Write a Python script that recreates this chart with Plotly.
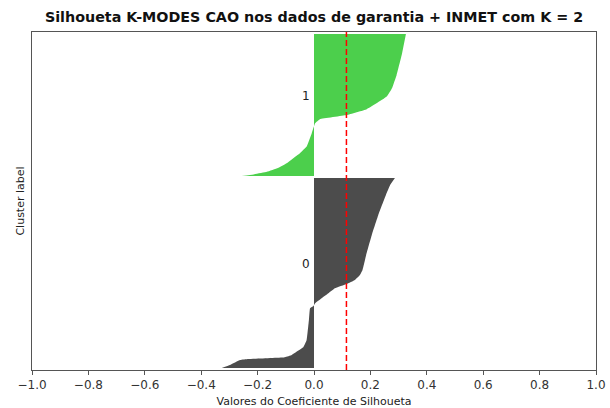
import plotly.graph_objects as go

# Silhouette profiles: rank within cluster (sorted ascending) and value
c0_rank = [0, 15, 40, 45, 54, 65, 82, 104, 140, 240, 299, 310, 324, 349, 374, 399, 420, 440, 465, 490, 565, 665, 765, 865, 915, 950]
c0_vals = [-0.327, -0.298, -0.262, -0.233, -0.103, -0.079, -0.061, -0.038, -0.026, -0.018, -0.014, -0.002, 0.004, 0.027,
           0.051, 0.074, 0.116, 0.145, 0.163, 0.172, 0.185, 0.205, 0.228, 0.255, 0.270, 0.287]
c1_rank = [0, 8, 21, 40, 64, 114, 147, 214, 264, 284, 305, 334, 397, 440, 505, 605, 710]
c1_vals = [-0.256, -0.215, -0.167, -0.128, -0.097, -0.050, -0.026, -0.008, 0.004, 0.021, 0.116, 0.187, 0.258, 0.277,
           0.293, 0.311, 0.326]
cluster_names = ["0", "1"]
cluster_sizes = [950, 710]
cluster_colors = ["rgb(76,76,76)", "rgb(76,207,76)"]
silhouette_avg = 0.115
x_ticks = [-1.0, -0.8, -0.6, -0.4, -0.2, 0.0, 0.2, 0.4, 0.6, 0.8, 1.0]

fig = go.Figure()
profiles = [(c0_rank, c0_vals), (c1_rank, c1_vals)]
y_lower = 10
for i, (ranks, vals) in enumerate(profiles):
    ys = [y_lower + r for r in ranks]
    fig.add_trace(go.Scatter(x=vals, y=ys, mode="lines", fill="tozerox",
                             fillcolor=cluster_colors[i], line=dict(width=0, color=cluster_colors[i]),
                             line_shape="spline", line_smoothing=0.3,
                             showlegend=False, hoverinfo="skip"))
    fig.add_annotation(x=-0.05, y=y_lower + 0.5 * cluster_sizes[i], text=cluster_names[i],
                       showarrow=False, xanchor="left", yanchor="bottom",
                       font=dict(family="DejaVu Sans", size=12, color="#222"))
    y_lower += cluster_sizes[i] + 10

ytop = sum(cluster_sizes) + 30
fig.add_shape(type="line", x0=silhouette_avg, x1=silhouette_avg, y0=0, y1=ytop, xref="x", yref="y",
              line=dict(color="red", width=1.5, dash="6px,3px"))

axis_line = dict(showline=True, linecolor="#555", linewidth=1, mirror=True, showgrid=False, zeroline=False,
                 automargin=False)
fig.update_xaxes(range=[-1, 1], tickvals=x_ticks, tickformat=".1f", ticks="outside", ticklen=4,
                 tickcolor="#555", tickfont=dict(family="DejaVu Sans", size=12, color="#333"),
                 title=dict(text="Valores do Coeficiente de Silhoueta", standoff=7,
                            font=dict(family="DejaVu Sans", size=11, color="#222")),
                 **axis_line)
fig.update_yaxes(range=[0, ytop], showticklabels=False, ticks="",
                 title=dict(text="Cluster label", standoff=4,
                            font=dict(family="DejaVu Sans", size=11, color="#222")),
                 **axis_line)
fig.update_layout(
    width=610, height=408,
    margin=dict(l=32, r=14, t=32, b=38),
    paper_bgcolor="white", plot_bgcolor="white",
    title=dict(text="<b>Silhoueta K-MODES CAO nos dados de garantia + INMET com K = 2</b>",
               x=0.5, xanchor="center", xref="paper", y=0.958, yanchor="middle",
               font=dict(family="DejaVu Sans", size=14.3, color="#111")),
)
fig.write_html("out.html")
